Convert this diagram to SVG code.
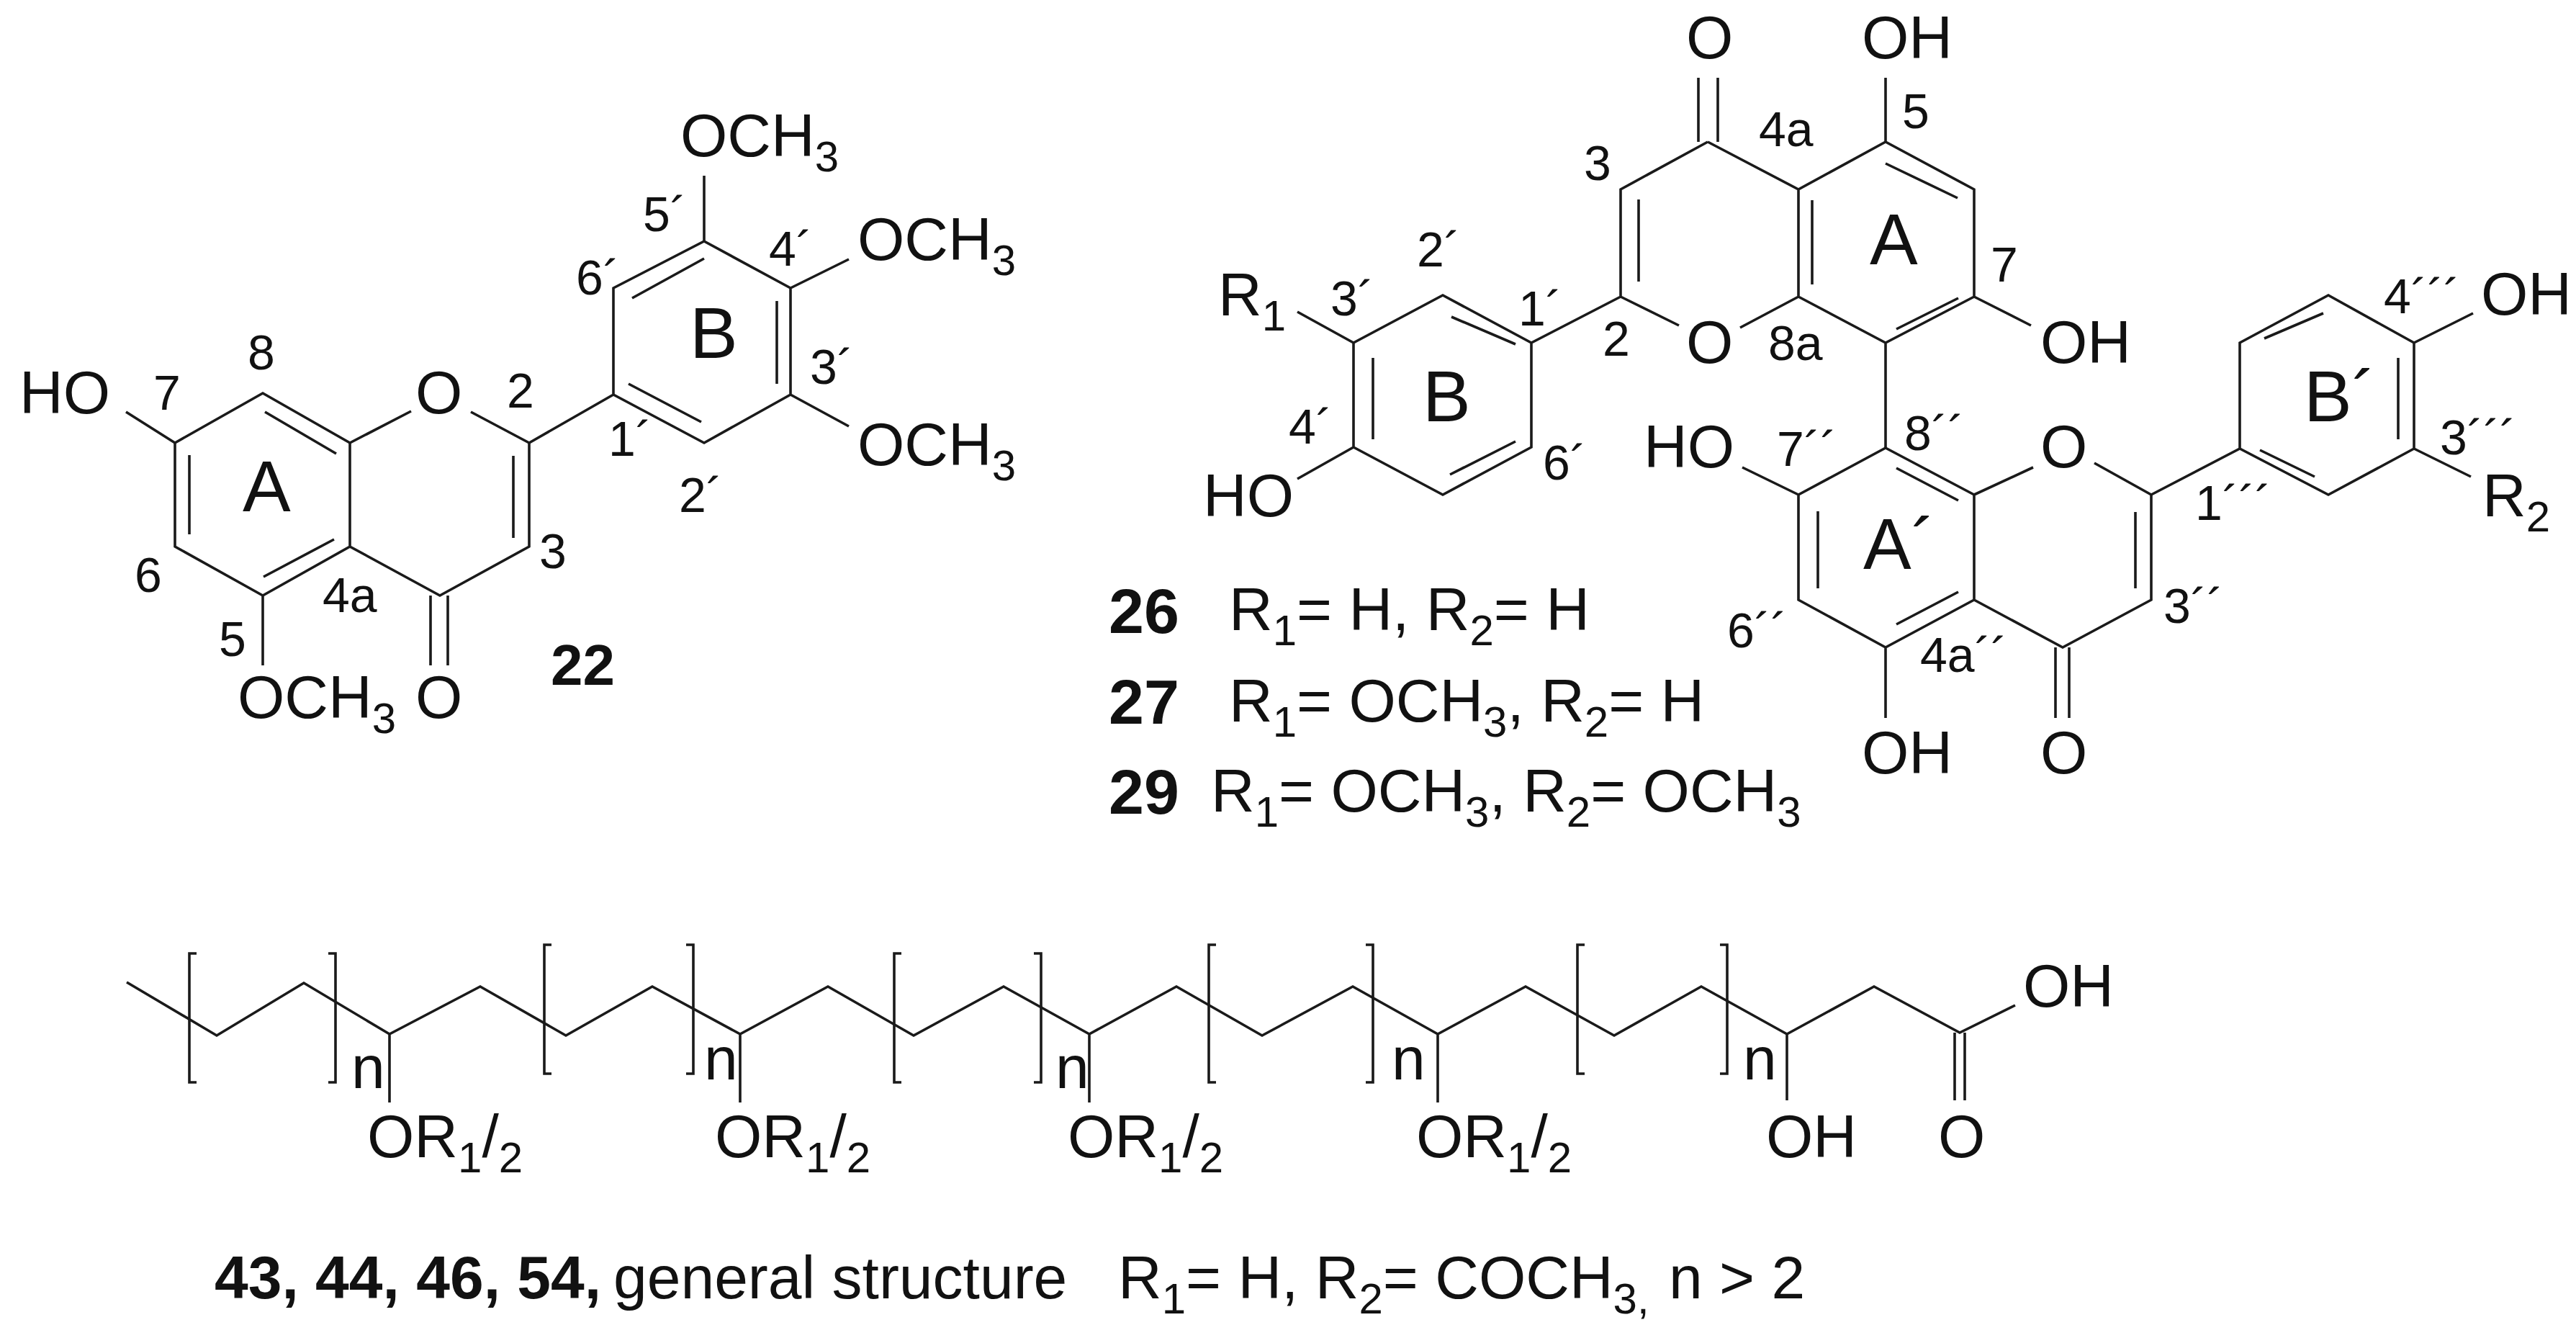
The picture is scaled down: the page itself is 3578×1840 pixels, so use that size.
<svg xmlns="http://www.w3.org/2000/svg" width="3578" height="1840" viewBox="0 0 3578 1840">
<style>
text{font-family:"Liberation Sans",Arial,sans-serif;fill:#111;font-size:84px}
.l{font-size:68px}
.r{font-size:100px}
.b{font-weight:bold}
.s{font-size:60px}
path{fill:none;stroke:#1a1a1a;stroke-width:3.6;stroke-linejoin:miter}
</style>
<rect width="3578" height="1840" fill="#fff"/>
<g id="connectors">
<path id="bonds-22" d="M243 615L365 546L486 615L486 759L365 827L243 759ZM263 632V742M368 572L467 630M366 801L464 749M486 615L571 571M654 572L735 615L735 759L611 827L486 759M713 633V747M598 924V827M622 924V827M365 827V924M735 615L852 548L978 615L1098 548V400L978 335L852 400V548M873 533L974 586M1079 418V533M978 359L878 414M978 335V244M1098 400L1179 360M1098 548L1179 592M243 615L175 572"/>
<path id="bonds-26-upper" d="M2372 197L2498 263L2619 197L2742 263V412L2619 476L2498 412V263M2372 197L2251 263V412L2332 452M2417 455L2498 412M2276 277V391M2517 278V395M2619 227L2719 275M2634 457L2720 414M2359 108V197M2386 108V197M2619 197V108M2742 412L2821 452M2251 412L2127 476L2004 410L1880 476V621L2004 687L2127 621V476M2016 440L2105 478M1907 497V610M2014 659L2105 613M1880 476L1802 433M1880 621L1802 665M2619 476V622"/>
<path id="bonds-26-lower" d="M2619 622L2742 687V833L2619 899L2498 833V687ZM2525 710V817M2634 650L2720 695M2634 867L2720 822M2742 687L2824 649M2909 643L2988 687V833L2865 899L2742 833M2966 711V817M2855 997V899M2874 997V899M2619 899V997M2420 649L2498 687M2988 687L3111 623L3234 687L3353 623V476L3234 410L3111 476V623M3139 625L3215 662M3145 470L3227 435M3331 497V610M3353 476L3435 435M3353 623L3432 662"/>
<path id="chain" d="M176 1364L301 1438L422 1365L541 1436L667 1370L786 1438L906 1370L1028 1436L1150 1370L1269 1438L1394 1370L1513 1436L1634 1370L1753 1438L1879 1370L1997 1436L2119 1370L2242 1438L2363 1370L2482 1436L2603 1370L2722 1434L2799 1396M541 1436V1531M1028 1436V1531M1513 1436V1531M1997 1436V1531M2482 1436V1528M2715 1434V1528M2729 1434V1528"/>
<path id="brackets" d="M273 1324H263V1503H273M456 1324H466V1503H456M766 1312H756V1491H766M953 1312H963V1491H953M1252 1324H1242V1503H1252M1436 1324H1446V1503H1436M1689 1312H1679V1503H1689M1897 1312H1907V1503H1897M2201 1312H2191V1491H2201M2389 1312H2399V1491H2389"/>
</g>
<g id="compound-22">
<text x="27" y="574">HO</text><text class="l" x="213" y="569">7</text><text class="l" x="344" y="513">8</text><text x="577" y="574">O</text><text class="l" x="704" y="566">2</text>
<text class="r" x="337" y="710">A</text><text class="l" x="187" y="822">6</text><text class="l" x="304" y="911">5</text><text class="l" x="448" y="850">4a</text><text class="l" x="749" y="789">3</text>
<text class="b" style="font-size:80px" x="765" y="951">22</text>
<text x="330" y="997">OCH<tspan class="s" dy="21">3</tspan></text><text x="577" y="997">O</text>
<text x="945" y="217">OCH<tspan class="s" dy="21">3</tspan></text><text x="1191" y="361">OCH<tspan class="s" dy="21">3</tspan></text><text x="1191" y="646">OCH<tspan class="s" dy="21">3</tspan></text>
<text class="l" x="893" y="321">5´</text><text class="l" x="1068" y="369">4´</text><text class="l" x="800" y="409">6´</text><text class="r" x="958" y="497">B</text><text class="l" x="1125" y="533">3´</text><text class="l" x="845" y="633">1´</text><text class="l" x="943" y="711">2´</text>
</g>
<g id="compound-26-27-29">
<text x="2342" y="81">O</text><text x="2586" y="81">OH</text><text x="2342" y="504">O</text><text x="2834" y="504">OH</text>
<text class="l" x="2443" y="203">4a</text><text class="l" x="2642" y="178">5</text><text class="l" x="2200" y="250">3</text><text class="r" x="2597" y="367">A</text><text class="l" x="2765" y="391">7</text><text class="l" x="2226" y="494">2</text><text class="l" x="2456" y="500">8a</text>
<text class="l" x="1968" y="370">2´</text><text class="l" x="2109" y="452">1´</text><text class="l" x="1848" y="438">3´</text><text x="1692" y="438">R<tspan class="s" dy="21">1</tspan></text>
<text x="1671" y="717">HO</text><text class="l" x="1790" y="616">4´</text><text class="r" x="1976" y="585">B</text><text class="l" x="2143" y="666">6´</text>
<text x="3446" y="437">OH</text><text x="3448" y="717">R<tspan class="s" dy="21">2</tspan></text>
<text class="l" x="3311" y="435">4´´´</text><text class="r" x="3200" y="585">B´</text><text class="l" x="3389" y="631">3´´´</text><text class="l" x="3049" y="722">1´´´</text>
<text x="2283" y="649">HO</text><text class="l" x="2468" y="647">7´´</text><text class="l" x="2645" y="625">8´´</text><text x="2834" y="649">O</text><text class="r" x="2588" y="790">A´</text><text class="l" x="3005" y="865">3´´</text><text class="l" x="2399" y="899">6´´</text><text class="l" x="2667" y="933">4a´´</text>
<text x="2586" y="1074">OH</text><text x="2834" y="1074">O</text>
<text class="b" style="font-size:88px" x="1540" y="879">26</text><text x="1707" y="875">R<tspan class="s" dy="21">1</tspan><tspan dy="-21">= H, R</tspan><tspan class="s" dy="21">2</tspan><tspan dy="-21">= H</tspan></text>
<text class="b" style="font-size:88px" x="1540" y="1005">27</text><text x="1707" y="1002">R<tspan class="s" dy="21">1</tspan><tspan dy="-21">= OCH</tspan><tspan class="s" dy="21">3</tspan><tspan dy="-21">, R</tspan><tspan class="s" dy="21">2</tspan><tspan dy="-21">= H</tspan></text>
<text class="b" style="font-size:88px" x="1540" y="1130">29</text><text x="1682" y="1127">R<tspan class="s" dy="21">1</tspan><tspan dy="-21">= OCH</tspan><tspan class="s" dy="21">3</tspan><tspan dy="-21">, R</tspan><tspan class="s" dy="21">2</tspan><tspan dy="-21">= OCH</tspan><tspan class="s" dy="21">3</tspan></text>
</g>
<g id="compound-43-44-46-54">
<text x="488" y="1511">n</text><text x="978" y="1499">n</text><text x="1466" y="1511">n</text><text x="1933" y="1499">n</text><text x="2421" y="1499">n</text>
<text x="510" y="1607">OR<tspan class="s" dy="21">1</tspan><tspan dy="-21">/</tspan><tspan class="s" dy="21">2</tspan></text>
<text x="993" y="1607">OR<tspan class="s" dy="21">1</tspan><tspan dy="-21">/</tspan><tspan class="s" dy="21">2</tspan></text>
<text x="1483" y="1607">OR<tspan class="s" dy="21">1</tspan><tspan dy="-21">/</tspan><tspan class="s" dy="21">2</tspan></text>
<text x="1967" y="1607">OR<tspan class="s" dy="21">1</tspan><tspan dy="-21">/</tspan><tspan class="s" dy="21">2</tspan></text>
<text x="2453" y="1607">OH</text><text x="2692" y="1607">O</text><text x="2810" y="1398">OH</text>
<text class="b" x="298" y="1803">43, 44, 46, 54,</text><text x="852" y="1803">general structure</text>
<text x="1553" y="1803">R<tspan class="s" dy="21">1</tspan><tspan dy="-21">= H, R</tspan><tspan class="s" dy="21">2</tspan><tspan dy="-21">= COCH</tspan><tspan class="s" dy="21">3,</tspan><tspan dy="-21" x="2318">n &gt; 2</tspan></text>
</g>
</svg>
